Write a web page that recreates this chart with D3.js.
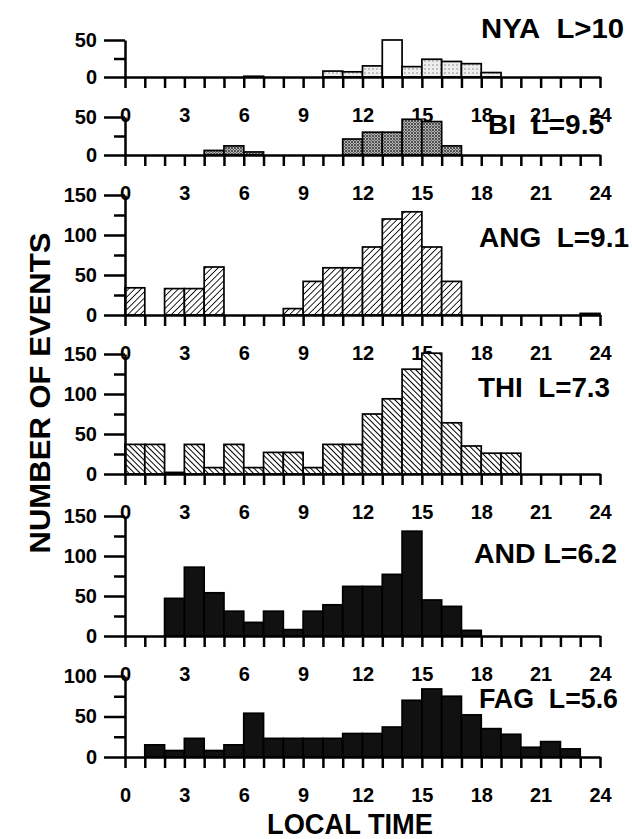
<!DOCTYPE html>
<html lang="en">
<head>
<meta charset="UTF-8">
<title>Number of events by local time</title>
<script src="https://d3js.org/d3.v7.min.js"></script>
<style>
  body { margin: 0; background: #fff; }
  svg { display: block; font-family: "Liberation Sans", Arial, sans-serif; font-weight: bold; }
  .axis path, .axis line { stroke: #000; stroke-width: 2.5; }
  .axis text { font-size: 20px; font-weight: bold; fill: #000; font-family: "Liberation Sans", Arial, sans-serif; }
  .bar { stroke: #000; stroke-width: 1.7; }
  .title { font-size: 28px; fill: #000; }
</style>
</head>
<body>
<svg id="chart" width="632" height="839"></svg>
<script>
// hourly event counts, bins 0-1 ... 23-24 local time
const hourLabels = [0, 3, 6, 9, 12, 15, 18, 21, 24];
const nya = [0, 0, 0, 0, 0, 0, 1, 0, 0, 0, 8, 7, 15, 50, 14, 24, 21, 18, 6, 0, 0, 0, 0, 0];
const bi  = [0, 0, 0, 0, 6, 12, 4, 0, 0, 0, 0, 21, 30, 30, 47, 44, 12, 0, 0, 0, 0, 0, 0, 0];
const ang = [34, 0, 33, 33, 60, 0, 0, 0, 8, 42, 59, 59, 85, 120, 129, 85, 42, 0, 0, 0, 0, 0, 0, 2];
const thi = [37, 37, 2, 37, 8, 37, 8, 27, 27, 8, 37, 37, 75, 94, 131, 151, 64, 35, 26, 26, 0, 0, 0, 0];
const and = [0, 0, 47, 86, 54, 31, 17, 31, 8, 31, 39, 62, 62, 77, 131, 45, 37, 7, 0, 0, 0, 0, 0, 0];
const fag = [0, 15, 8, 23, 8, 15, 54, 23, 23, 23, 23, 29, 29, 37, 70, 84, 75, 52, 35, 28, 12, 19, 10, 0];

const panels = [
    { label: "NYA\u00a0\u00a0L>10", values: nya, max: 50, major: [0, 50], minor: [25],
      top: 40, base: 77, fill: "url(#dotLight)", open: [13], tx: 481, ty: 38, tw: 143 },
    { label: "BI\u00a0\u00a0L=9.5", values: bi, max: 50, major: [0, 50], minor: [25],
      top: 117, base: 155, fill: "url(#dotDark)", open: [], tx: 488, ty: 134, tw: 116 },
    { label: "ANG\u00a0\u00a0L=9.1", values: ang, max: 150, major: [0, 50, 100, 150], minor: [25, 75, 125],
      top: 195, base: 315, fill: "url(#hatchFwd)", open: [], tx: 479, ty: 247, tw: 150 },
    { label: "THI\u00a0\u00a0L=7.3", values: thi, max: 150, major: [0, 50, 100, 150], minor: [25, 75, 125],
      top: 354, base: 474, fill: "url(#hatchBack)", open: [], tx: 478, ty: 397, tw: 132 },
    { label: "AND L=6.2", values: and, max: 150, major: [0, 50, 100, 150], minor: [25, 75, 125],
      top: 516, base: 636, fill: "#111", open: [], tx: 474, ty: 563, tw: 143 },
    { label: "FAG\u00a0\u00a0L=5.6", values: fag, max: 100, major: [0, 50, 100], minor: [25, 75],
      top: 676, base: 757, fill: "#111", open: [], tx: 479, ty: 708, tw: 139 }
];

const svg = d3.select("#chart");
const x = d3.scaleLinear().domain([0, 24]).range([125, 600]);

// fill patterns
const defs = svg.append("defs");
const dl = defs.append("pattern").attr("id", "dotLight").attr("patternUnits", "userSpaceOnUse")
    .attr("width", 4).attr("height", 4);
dl.append("rect").attr("width", 4).attr("height", 4).attr("fill", "#eee");
dl.append("circle").attr("cx", 1).attr("cy", 1).attr("r", 0.8).attr("fill", "#888");

const dd = defs.append("pattern").attr("id", "dotDark").attr("patternUnits", "userSpaceOnUse")
    .attr("width", 3).attr("height", 3);
dd.append("rect").attr("width", 3).attr("height", 3).attr("fill", "#b4b4b4");
dd.append("circle").attr("cx", 1).attr("cy", 1).attr("r", 0.9).attr("fill", "#222");
dd.append("circle").attr("cx", 2.5).attr("cy", 2.5).attr("r", 0.6).attr("fill", "#555");

function hatch(id, gap, angle, width) {
    const p = defs.append("pattern").attr("id", id).attr("patternUnits", "userSpaceOnUse")
        .attr("width", gap).attr("height", gap).attr("patternTransform", `rotate(${angle})`);
    p.append("rect").attr("width", gap).attr("height", gap).attr("fill", "#fff");
    p.append("line").attr("x1", 0).attr("y1", 0).attr("x2", 0).attr("y2", gap)
        .attr("stroke", "#000").attr("stroke-width", width);
}
hatch("hatchFwd", 4.4, 45, 1.7);
hatch("hatchBack", 4, -45, 2);

panels.forEach(p => {
    const y = d3.scaleLinear().domain([0, p.max]).range([p.base, p.top]);
    const g = svg.append("g");

    // bars
    g.selectAll("rect")
        .data(p.values.map((v, h) => ({ h, v })).filter(d => d.v > 0))
        .enter()
        .append("rect")
        .attr("class", "bar")
        .attr("x", d => x(d.h))
        .attr("width", d => x(d.h + 1) - x(d.h))
        .attr("y", d => y(d.v))
        .attr("height", d => y(0) - y(d.v))
        .attr("fill", d => p.open.includes(d.h) ? "#fff" : p.fill);

    // hour axis
    g.append("g")
        .attr("class", "axis")
        .attr("transform", `translate(0,${p.base})`)
        .call(d3.axisBottom(x)
            .tickValues(d3.range(25))
            .tickSize(11)
            .tickSizeOuter(0)
            .tickPadding(20)
            .tickFormat(d => hourLabels.includes(d) ? d : ""));

    // count axis
    g.append("g")
        .attr("class", "axis")
        .attr("transform", `translate(${x(0)},0)`)
        .call(d3.axisLeft(y).tickValues(p.major).tickSize(21).tickSizeOuter(0).tickPadding(7));

    g.append("g")
        .attr("class", "axis")
        .attr("transform", `translate(${x(0)},0)`)
        .call(d3.axisLeft(y).tickValues(p.minor).tickSize(11).tickFormat(""))
        .select(".domain").remove();

    g.append("text")
        .attr("class", "title")
        .attr("x", p.tx)
        .attr("y", p.ty)
        .attr("textLength", p.tw)
        .attr("lengthAdjust", "spacingAndGlyphs")
        .text(p.label);
});

// axis titles
svg.append("text")
    .attr("transform", "translate(50,393) rotate(-90)")
    .attr("text-anchor", "middle")
    .attr("font-size", 30)
    .attr("textLength", 321)
    .attr("lengthAdjust", "spacingAndGlyphs")
    .text("NUMBER OF EVENTS");

svg.append("text")
    .attr("x", 350)
    .attr("y", 834)
    .attr("text-anchor", "middle")
    .attr("font-size", 29)
    .attr("textLength", 166)
    .attr("lengthAdjust", "spacingAndGlyphs")
    .text("LOCAL TIME");
</script>
</body>
</html>
